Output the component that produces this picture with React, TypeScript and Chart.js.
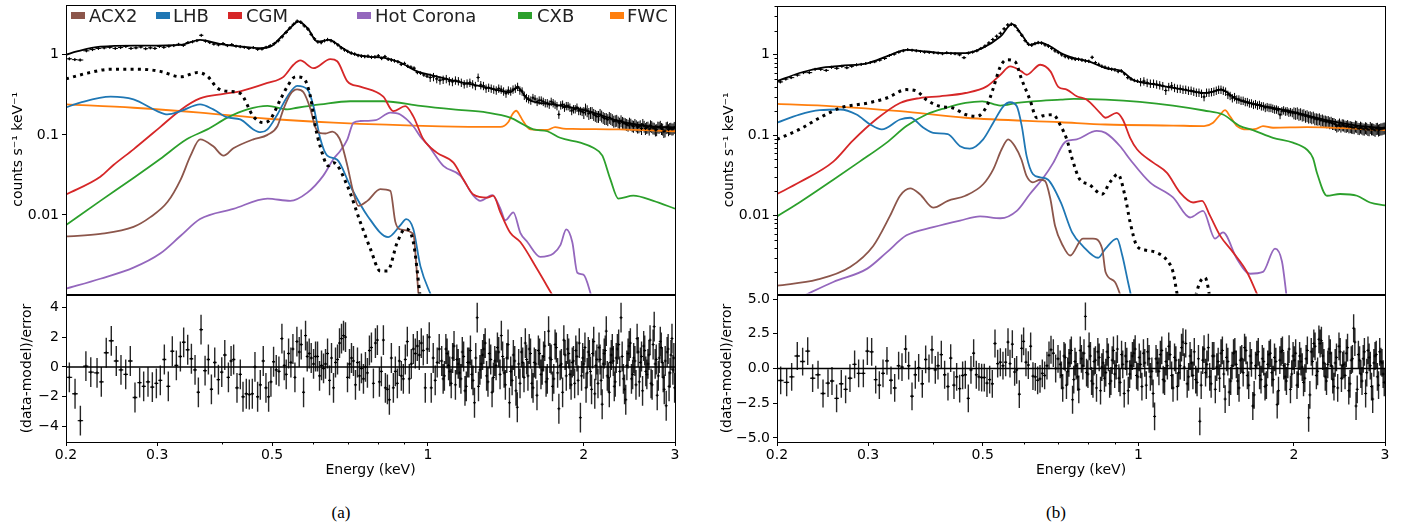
import React, { useEffect, useRef } from 'react';
import { Chart, registerables } from 'chart.js';

Chart.register(...registerables);

const FONT_FAMILY = "'DejaVu Sans', sans-serif";
const C_ACX = '#8c564b';
const C_LHB = '#1f77b4';
const C_CGM = '#d62728';
const C_HOT = '#9467bd';
const C_CXB = '#2ca02c';
const C_FWC = '#ff7f0e';

// ---------- axis ticks ----------
const X_TICKS = [0.2, 0.3, 0.5, 1, 2, 3];
const X_MINOR = [0.4, 0.6, 0.7, 0.8, 0.9];
const Y_TICKS_SPEC = [0.01, 0.1, 1];
const Y_MINOR_SPEC = [0.002, 0.003, 0.004, 0.005, 0.006, 0.007, 0.008, 0.009, 0.02, 0.03, 0.04, 0.05, 0.06, 0.07, 0.08, 0.09, 0.2, 0.3, 0.4, 0.5, 0.6, 0.7, 0.8, 0.9, 2, 3, 4];
const RES_TICKS_A = [-4, -2, 0, 2, 4];
const RES_TICKS_B = [-5, -2.5, 0, 2.5, 5];

// relative error of spectrum points by energy band [upper energy, fraction]
const REL_ERR: [number, number][] = [[0.5, 0.035], [1.0, 0.05], [2.0, 0.12], [3.1, 0.17]];

// ---------- panel (a) model components ----------
const MODEL_A_E = [0.2, 0.21, 0.233, 0.278, 0.333, 0.363, 0.396, 0.434, 0.475, 0.5,
  0.519, 0.542, 0.562, 0.585, 0.612, 0.645, 0.677, 0.708, 0.764, 0.82,
  0.884, 0.953, 1.024, 1.13, 1.302, 1.44, 1.49, 1.56, 1.75, 2.03,
  2.34, 2.72, 3.0];
const MODEL_A_V = [1.0, 1.1, 1.26, 1.3, 1.33, 1.53, 1.37, 1.27, 1.21, 1.3,
  1.63, 2.16, 2.6, 2.16, 1.46, 1.53, 1.27, 1.06, 0.95, 0.92,
  0.8, 0.62, 0.55, 0.47, 0.39, 0.34, 0.39, 0.277, 0.24, 0.2,
  0.149, 0.127, 0.124];

const DOTTED_A_E = [0.2, 0.22, 0.244, 0.278, 0.304, 0.333, 0.359, 0.375, 0.392, 0.41,
  0.434, 0.46, 0.481, 0.496, 0.519, 0.535, 0.555, 0.575, 0.593, 0.606,
  0.62, 0.642, 0.657, 0.699, 0.74, 0.774, 0.809, 0.835, 0.873, 0.904,
  0.937, 0.967];
const DOTTED_A_V = [0.5, 0.59, 0.66, 0.66, 0.62, 0.53, 0.6, 0.54, 0.385, 0.35,
  0.33, 0.17, 0.142, 0.156, 0.277, 0.4, 0.53, 0.51, 0.3, 0.128,
  0.07, 0.041, 0.045, 0.023, 0.0082, 0.0038, 0.002, 0.002, 0.0046, 0.0067,
  0.0046, 0.0009];

const ACX2_A_E = [0.2, 0.233, 0.27, 0.291, 0.314, 0.333, 0.348, 0.363, 0.385, 0.403,
  0.421, 0.46, 0.49, 0.512, 0.526, 0.542, 0.559, 0.575, 0.593, 0.606,
  0.62, 0.634, 0.654, 0.668, 0.68, 0.699, 0.718, 0.734, 0.764, 0.809,
  0.846, 0.865, 0.884, 0.937, 0.95, 0.96];
const ACX2_A_V = [0.0054, 0.0058, 0.0071, 0.0094, 0.0145, 0.0277, 0.055, 0.088, 0.072, 0.055,
  0.068, 0.088, 0.10, 0.128, 0.21, 0.32, 0.37, 0.34, 0.21, 0.125,
  0.105, 0.104, 0.11, 0.1, 0.08, 0.041, 0.019, 0.013, 0.015, 0.021,
  0.02, 0.0082, 0.0066, 0.0058, 0.0023, 0.0009];

const LHB_A_E = [0.2, 0.213, 0.244, 0.27, 0.3, 0.314, 0.333, 0.363, 0.385, 0.41,
  0.434, 0.46, 0.475, 0.49, 0.512, 0.535, 0.559, 0.585, 0.601, 0.62,
  0.639, 0.668, 0.708, 0.764, 0.838, 0.884, 0.908, 0.937, 0.967, 1.02];
const LHB_A_V = [0.22, 0.253, 0.30, 0.277, 0.198, 0.18, 0.198, 0.24, 0.208, 0.165,
  0.156, 0.117, 0.108, 0.117, 0.18, 0.30, 0.41, 0.37, 0.23, 0.088,
  0.055, 0.049, 0.023, 0.0098, 0.0053, 0.0074, 0.0089, 0.0067, 0.0023, 0.0009];

const CGM_A_E = [0.2, 0.233, 0.247, 0.27, 0.304, 0.333, 0.363, 0.403, 0.434, 0.49,
  0.526, 0.55, 0.567, 0.601, 0.648, 0.668, 0.699, 0.74, 0.82, 0.857,
  0.904, 0.937, 0.98, 1.04, 1.12, 1.17, 1.224, 1.302, 1.337, 1.38,
  1.442, 1.508, 1.626, 1.739];
const CGM_A_V = [0.018, 0.03, 0.042, 0.066, 0.125, 0.205, 0.285, 0.325, 0.35, 0.445,
  0.53, 0.75, 0.85, 0.68, 0.88, 0.83, 0.466, 0.40, 0.30, 0.198,
  0.228, 0.17, 0.088, 0.06, 0.045, 0.028, 0.018, 0.0165, 0.0174, 0.0108,
  0.006, 0.0046, 0.0021, 0.001];

const HOT_A_E = [0.2, 0.233, 0.27, 0.304, 0.333, 0.363, 0.421, 0.49, 0.542, 0.585,
  0.628, 0.657, 0.677, 0.699, 0.718, 0.74, 0.793, 0.846, 0.884, 0.937,
  0.967, 1.0, 1.071, 1.155, 1.224, 1.262, 1.331, 1.38, 1.411, 1.462,
  1.508, 1.556, 1.648, 1.747, 1.802, 1.85, 1.9, 1.943, 1.996, 2.077];
const HOT_A_V = [0.0012, 0.0016, 0.0022, 0.0033, 0.0055, 0.0089, 0.0119, 0.016, 0.015, 0.019,
  0.031, 0.05, 0.063, 0.088, 0.142, 0.149, 0.153, 0.19, 0.18, 0.128,
  0.095, 0.075, 0.041, 0.031, 0.0174, 0.015, 0.0177, 0.012, 0.0086, 0.0108,
  0.006, 0.0046, 0.003, 0.0033, 0.0042, 0.0066, 0.0046, 0.0019, 0.0018, 0.0009];

const CXB_A_E = [0.2, 0.233, 0.27, 0.304, 0.342, 0.375, 0.41, 0.448, 0.49, 0.535,
  0.559, 0.62, 0.708, 0.82, 0.967, 1.12, 1.302, 1.442, 1.528, 1.598,
  1.7, 1.8, 1.969, 2.086, 2.172, 2.25, 2.332, 2.493, 2.725, 3.0];
const CXB_A_V = [0.0075, 0.015, 0.029, 0.05, 0.088, 0.117, 0.164, 0.208, 0.23, 0.208,
  0.218, 0.24, 0.263, 0.263, 0.23, 0.208, 0.19, 0.164, 0.135, 0.117,
  0.111, 0.092, 0.08, 0.069, 0.055, 0.028, 0.016, 0.0174, 0.015, 0.012];

const FWC_A_E = [0.2, 0.27, 0.363, 0.49, 0.657, 1.06, 1.38, 1.43, 1.455, 1.481,
  1.505, 1.52, 1.577, 1.7, 1.76, 1.826, 1.9, 2.34, 3.0];
const FWC_A_V = [0.24, 0.218, 0.19, 0.159, 0.142, 0.128, 0.126, 0.145, 0.18, 0.2,
  0.175, 0.156, 0.117, 0.115, 0.125, 0.12, 0.119, 0.117, 0.111];

// ---------- spectrum data points (both panels share binning) ----------
const DATA_E = [0.203, 0.208, 0.213, 0.219, 0.225, 0.231, 0.237, 0.243, 0.249, 0.255,
  0.261, 0.267, 0.273, 0.279, 0.285, 0.291, 0.297, 0.303, 0.309, 0.316,
  0.323, 0.33, 0.337, 0.344, 0.351, 0.358, 0.365, 0.372, 0.379, 0.386,
  0.394, 0.402, 0.41, 0.418, 0.426, 0.434, 0.442, 0.451, 0.46, 0.469,
  0.478, 0.487, 0.496, 0.505, 0.514, 0.523, 0.532, 0.541, 0.55, 0.559,
  0.568, 0.577, 0.586, 0.595, 0.604, 0.613, 0.622, 0.631, 0.64, 0.65,
  0.66, 0.67, 0.68, 0.69, 0.7, 0.711, 0.722, 0.733, 0.744, 0.755,
  0.766, 0.778, 0.79, 0.802, 0.814, 0.826, 0.838, 0.85, 0.862, 0.875,
  0.888, 0.901, 0.914, 0.927, 0.94, 0.954, 0.968, 0.982, 0.996, 1.01,
  1.04, 1.07, 1.1, 1.13, 1.16, 1.19, 1.22, 1.25, 1.28, 1.31,
  1.34, 1.37, 1.4, 1.43, 1.46, 1.49, 1.52, 1.55, 1.58, 1.61,
  1.64, 1.67, 1.7, 1.73, 1.76, 1.79, 1.82, 1.85, 1.88, 1.91,
  1.94, 1.97, 2.0, 2.03, 2.06, 2.09, 2.12, 2.15, 2.18, 2.21,
  2.24, 2.27, 2.3, 2.33, 2.36, 2.39, 2.42, 2.45, 2.48, 2.51,
  2.54, 2.57, 2.6, 2.63, 2.66, 2.69, 2.72, 2.75, 2.78, 2.81,
  2.84, 2.87, 2.9, 2.93, 2.96, 2.99];
const DATA_A = [0.89, 0.87, 0.86, 1.12, 1.16, 1.2, 1.22, 1.24, 1.2, 1.23,
  1.27, 1.2, 1.22, 1.25, 1.19, 1.22, 1.2, 1.27, 1.24, 1.28,
  1.3, 1.35, 1.31, 1.42, 1.45, 1.5, 1.75, 1.48, 1.42, 1.36,
  1.33, 1.38, 1.3, 1.34, 1.28, 1.26, 1.24, 1.2, 1.23, 1.17,
  1.18, 1.24, 1.3, 1.38, 1.5, 1.68, 1.9, 2.15, 2.4, 2.62,
  2.55, 2.3, 2.1, 1.8, 1.58, 1.45, 1.42, 1.5, 1.55, 1.5,
  1.42, 1.33, 1.22, 1.15, 1.1, 1.05, 1.02, 0.98, 0.96, 0.95,
  0.96, 0.93, 0.94, 0.97, 0.9, 0.95, 0.88, 0.86, 0.84, 0.82,
  0.76, 0.78, 0.72, 0.7, 0.68, 0.6, 0.59, 0.56, 0.54, 0.52,
  0.5, 0.49, 0.47, 0.48, 0.45, 0.44, 0.43, 0.52, 0.41, 0.39,
  0.37, 0.38, 0.35, 0.36, 0.37, 0.4, 0.35, 0.29, 0.27, 0.28,
  0.27, 0.26, 0.25, 0.26, 0.24, 0.18, 0.24, 0.23, 0.22, 0.21,
  0.22, 0.2, 0.19, 0.2, 0.19, 0.18, 0.17, 0.18, 0.165, 0.16,
  0.165, 0.155, 0.15, 0.145, 0.15, 0.14, 0.135, 0.14, 0.13, 0.135,
  0.125, 0.13, 0.135, 0.12, 0.125, 0.13, 0.122, 0.115, 0.125, 0.128,
  0.118, 0.112, 0.125, 0.12, 0.118, 0.124];
const DATA_B = [0.46, 0.5, 0.52, 0.56, 0.6, 0.6, 0.66, 0.66, 0.64, 0.7,
  0.68, 0.72, 0.69, 0.72, 0.75, 0.76, 0.78, 0.8, 0.82, 0.86,
  0.9, 0.98, 1.02, 1.08, 1.12, 1.16, 1.14, 1.12, 1.1, 1.08,
  1.07, 1.06, 1.05, 1.03, 1.06, 1.04, 1.03, 1.0, 0.92, 1.05,
  1.08, 1.12, 1.2, 1.28, 1.4, 1.55, 1.7, 1.85, 2.1, 2.35,
  2.4, 2.3, 2.0, 1.75, 1.5, 1.35, 1.32, 1.38, 1.42, 1.4,
  1.33, 1.28, 1.2, 1.12, 1.07, 1.0, 0.95, 0.92, 0.9, 0.88,
  0.88, 0.86, 0.84, 0.83, 0.93, 0.8, 0.76, 0.72, 0.7, 0.68,
  0.66, 0.65, 0.62, 0.63, 0.58, 0.52, 0.5, 0.48, 0.47, 0.46,
  0.45, 0.44, 0.42, 0.36, 0.41, 0.38, 0.37, 0.36, 0.35, 0.34,
  0.3, 0.34, 0.35, 0.37, 0.36, 0.32, 0.29, 0.28, 0.27, 0.26,
  0.25, 0.24, 0.235, 0.23, 0.22, 0.22, 0.215, 0.21, 0.18, 0.205,
  0.2, 0.195, 0.19, 0.19, 0.185, 0.18, 0.175, 0.17, 0.168, 0.16,
  0.16, 0.155, 0.15, 0.148, 0.145, 0.14, 0.13, 0.138, 0.135, 0.13,
  0.132, 0.128, 0.125, 0.13, 0.122, 0.126, 0.12, 0.124, 0.118, 0.125,
  0.12, 0.115, 0.122, 0.118, 0.12, 0.123];
// finer high-energy bins interleaved with the ones above
const DATA_E2 = [1.025, 1.055, 1.085, 1.115, 1.145, 1.175, 1.205, 1.235, 1.265, 1.295,
  1.325, 1.355, 1.385, 1.415, 1.445, 1.475, 1.505, 1.535, 1.565, 1.595,
  1.625, 1.655, 1.685, 1.715, 1.745, 1.775, 1.805, 1.835, 1.865, 1.895,
  1.925, 1.955, 1.985, 2.015, 2.045, 2.075, 2.105, 2.135, 2.165, 2.195,
  2.225, 2.255, 2.285, 2.315, 2.345, 2.375, 2.405, 2.435, 2.465, 2.495,
  2.525, 2.555, 2.585, 2.615, 2.645, 2.675, 2.705, 2.735, 2.765, 2.795,
  2.825, 2.855, 2.885, 2.915, 2.945, 2.975];
const DATA_A2 = [0.53, 0.48, 0.5, 0.46, 0.47, 0.43, 0.45, 0.41, 0.42, 0.38,
  0.38, 0.36, 0.37, 0.33, 0.35, 0.38, 0.36, 0.31, 0.28, 0.29,
  0.26, 0.27, 0.25, 0.24, 0.25, 0.23, 0.235, 0.22, 0.23, 0.2,
  0.21, 0.2, 0.195, 0.21, 0.185, 0.19, 0.175, 0.17, 0.172, 0.16,
  0.155, 0.16, 0.148, 0.152, 0.14, 0.143, 0.138, 0.132, 0.136, 0.128,
  0.13, 0.126, 0.12, 0.128, 0.124, 0.118, 0.127, 0.121, 0.116, 0.124,
  0.12, 0.11, 0.123, 0.116, 0.121, 0.119];
const DATA_B2 = [0.47, 0.44, 0.43, 0.41, 0.4, 0.39, 0.38, 0.37, 0.36, 0.34,
  0.33, 0.34, 0.345, 0.36, 0.37, 0.35, 0.31, 0.3, 0.28, 0.27,
  0.26, 0.25, 0.245, 0.24, 0.23, 0.225, 0.22, 0.21, 0.205, 0.2,
  0.198, 0.192, 0.19, 0.187, 0.182, 0.178, 0.172, 0.168, 0.165, 0.16,
  0.158, 0.153, 0.15, 0.147, 0.143, 0.14, 0.136, 0.133, 0.13, 0.134,
  0.129, 0.127, 0.126, 0.124, 0.128, 0.121, 0.123, 0.119, 0.122, 0.117,
  0.12, 0.118, 0.121, 0.116, 0.12, 0.122];

// ---------- panel (a) residuals ----------
const RES_A_E_LO = [0.2030, 0.2082, 0.2132, 0.2185, 0.2233, 0.2296, 0.2340, 0.2392, 0.2446, 0.2501,
  0.2554, 0.2608, 0.2662, 0.2718, 0.2775, 0.2825, 0.2880, 0.2936, 0.2989, 0.3042,
  0.3097, 0.3152, 0.3209, 0.3267, 0.3326, 0.3375, 0.3436, 0.3493, 0.3550, 0.3603,
  0.3646, 0.3712, 0.3767, 0.3818, 0.3875, 0.3939, 0.3998, 0.4052, 0.4118, 0.4167,
  0.4215, 0.4278, 0.4342, 0.4394, 0.4459, 0.4519, 0.4580, 0.4634, 0.4689, 0.4745,
  0.4808, 0.4866, 0.4924, 0.4975, 0.5034, 0.5094, 0.5155, 0.5224, 0.5278, 0.5325,
  0.5381, 0.5437, 0.5486, 0.5535, 0.5584, 0.5642, 0.5692, 0.5752, 0.5803, 0.5846,
  0.5898, 0.5951, 0.6013, 0.6067, 0.6121, 0.6175, 0.6230, 0.6286, 0.6342, 0.6399,
  0.6456, 0.6513, 0.6571, 0.6630, 0.6690, 0.6749, 0.6809, 0.6870, 0.6931, 0.6993,
  0.7055, 0.7118, 0.7181, 0.7245, 0.7310, 0.7375, 0.7440, 0.7507, 0.7574, 0.7641,
  0.7709, 0.7778, 0.7847, 0.7917, 0.7987, 0.8059, 0.8130, 0.8203, 0.8276, 0.8350,
  0.8424, 0.8499, 0.8575, 0.8651, 0.8728, 0.8806, 0.8884, 0.8964, 0.9043, 0.9124,
  0.9205, 0.9287, 0.9370, 0.9453, 0.9537, 0.9622, 0.9708, 0.9794, 0.9882, 0.9970,
  1.0058, 1.0148, 1.0238, 1.0329, 1.0421, 1.0514];
const RES_A_LO = [-0.7, -1.8, -3.6, 0.05, -0.35, -0.4, -1.0, 0.95, 1.75, 0.4,
  -0.2, -0.5, 0.4, -2.05, -1.05, -1.3, -1.0, -1.35, -1.1, -0.9,
  0.5, -1.3, 1.05, 0.1, 0.7, 1.65, 1.15, 0.55, -0.2, -1.7,
  2.5, -0.25, 0.5, -1.5, 0.3, -0.85, -0.35, 0.8, -0.7, 0.4,
  0.5, -1.4, -0.5, -2.0, -1.8, -1.85, -1.8, 0.0, -2.0, -1.2,
  0.4, -1.4, -2.0, -1.0, 0.35, -0.2, -0.3, 1.9, 0.1, -0.5,
  0.9, 0.3, 1.2, -0.7, 1.7, 1.0, 1.5, -1.7, 2.1, 0.7,
  0.9, 0.6, 0.2, 0.7, 0.7, -0.6, 0.1, -0.1, 0.2, 0.9,
  -0.9, 0.6, -1.4, 0.3, 0.5, 1.6, 1.9, 2.1, 2.0, -0.7,
  0.2, 0.6, 0.4, -1.2, 0.3, -0.6, -0.1, -0.8, 0.0, -0.4,
  1.1, 1.3, -1.1, 1.6, 1.8, -1.0, -0.3, 1.8, -1.4, -1.5,
  -2.2, 0.6, -1.4, -0.3, -1.1, 0.4, -0.6, -0.8, 0.5, 1.7,
  -0.8, 0.2, 1.2, 0.9, 1.4, 0.8, 1.6, 1.1, -1.4, 1.2,
  2.0, -1.4, 0.6, -0.9, 0.3, 1.2];
const RES_A_E_HI = [1.063, 1.076, 1.089, 1.102, 1.116, 1.13, 1.144, 1.158, 1.172, 1.186,
  1.2, 1.215, 1.23, 1.245, 1.26, 1.275, 1.29, 1.306, 1.322, 1.338,
  1.354, 1.37, 1.386, 1.403, 1.42, 1.437, 1.454, 1.471, 1.488, 1.506,
  1.524, 1.542, 1.56, 1.578, 1.596, 1.615, 1.634, 1.653, 1.672, 1.691,
  1.71, 1.73, 1.75, 1.77, 1.79, 1.81, 1.83, 1.85, 1.87, 1.89,
  1.91, 1.93, 1.95, 1.97, 1.99, 2.01, 2.03, 2.05, 2.07, 2.09,
  2.11, 2.13, 2.15, 2.17, 2.19, 2.21, 2.23, 2.25, 2.27, 2.29,
  2.31, 2.335, 2.36, 2.385, 2.41, 2.435, 2.46, 2.485, 2.51, 2.535,
  2.56, 2.585, 2.61, 2.635, 2.66, 2.685, 2.71, 2.735, 2.76, 2.785,
  2.81, 2.835, 2.86, 2.885, 2.91, 2.935, 2.96, 2.985];
const RES_A_HI = [0.4, -0.6, 0.9, -0.3, 0.6, -1.2, 0.2, -0.8, 0.7, -1.3,
  0.3, -0.5, -2.4, 3.3, -0.2, 0.8, 1.6, -1.0, 0.5, -0.7,
  0.1, 1.0, 2.1, -0.4, 0.6, -2.4, -0.9, 0.4, -2.7, -1.1,
  0.3, 1.6, -0.6, 0.9, -1.4, 0.2, 1.1, -0.5, 0.7, -1.0,
  2.4, 0.5, -0.8, 1.3, -2.8, 0.2, 1.8, -0.6, 0.9, -1.2,
  0.4, 1.1, -0.9, -3.4, 0.6, 1.3, -0.4, 0.8, -1.5, 1.7,
  0.1, -1.1, 0.5, -2.5, 0.9, 2.4, -0.7, 0.3, 1.2, -1.3,
  0.6, 1.5, 3.3, -0.8, -2.2, 0.9, 1.6, -0.5, 0.4, 1.9,
  -1.0, 0.7, 1.4, -0.3, 0.2, 1.8, -1.2, 2.7, 0.5, -0.6,
  1.7, 0.3, -1.5, -2.6, 1.2, -0.4, 1.9, 0.6];
const RES_A_E_HI2 = [1.07, 1.083, 1.096, 1.109, 1.123, 1.137, 1.151, 1.165, 1.179, 1.193,
  1.208, 1.222, 1.237, 1.252, 1.267, 1.282, 1.298, 1.314, 1.33, 1.346,
  1.362, 1.378, 1.394, 1.411, 1.428, 1.445, 1.462, 1.479, 1.497, 1.515,
  1.533, 1.551, 1.569, 1.587, 1.605, 1.624, 1.643, 1.662, 1.681, 1.7,
  1.72, 1.74, 1.76, 1.78, 1.8, 1.82, 1.84, 1.86, 1.88, 1.9,
  1.92, 1.94, 1.96, 1.98, 2.0, 2.02, 2.04, 2.06, 2.08, 2.1,
  2.12, 2.14, 2.16, 2.18, 2.2, 2.22, 2.24, 2.26, 2.28, 2.3,
  2.322, 2.347, 2.372, 2.397, 2.422, 2.447, 2.472, 2.497, 2.522, 2.547,
  2.572, 2.597, 2.622, 2.647, 2.672, 2.697, 2.722, 2.747, 2.772, 2.797,
  2.822, 2.847, 2.872, 2.897, 2.922, 2.947, 2.972, 2.995];
const RES_A_HI2 = [-0.8, 1.2, 0.1, -1.1, 1.4, 0.5, -0.4, 1.0, -1.6, 0.3,
  1.1, -0.9, 0.6, -1.3, 0.2, 1.2, -0.6, 0.9, -1.7, 0.4,
  1.3, -0.5, 0.7, -1.2, 1.5, -0.3, 0.8, -1.6, 0.2, 1.0,
  -0.7, 0.5, 1.2, -1.1, 0.3, -1.9, 0.9, -0.2, 1.4, -0.8,
  0.6, -1.3, 1.5, -0.4, 0.1, -1.7, 0.8, 1.2, -0.5, 0.3,
  -1.1, 0.7, 1.6, -0.6, 0.2, -1.4, 1.0, -0.3, 0.9, -1.8,
  0.5, 1.3, -0.9, 0.2, 1.1, -0.6, -1.7, 0.8, 0.4, -1.0,
  1.2, -0.3, 0.7, -1.5, 0.1, 1.4, -0.8, 0.6, -1.2, 1.0,
  0.3, -1.6, 1.1, -0.5, 0.8, -1.1, 1.5, 0.2, -1.9, 0.6,
  1.3, -0.7, 0.4, 1.0, -1.3, 0.8, -0.2, -1.4];

// ---------- panel (b) model components ----------
const MODEL_B_E = [0.2, 0.221, 0.242, 0.265, 0.3, 0.326, 0.356, 0.389, 0.424, 0.463,
  0.499, 0.541, 0.57, 0.598, 0.617, 0.646, 0.676, 0.708, 0.751, 0.802,
  0.864, 0.931, 0.976, 1.08, 1.2, 1.357, 1.447, 1.547, 1.69, 1.965,
  2.276, 2.648, 3.0];
const MODEL_B_V = [0.468, 0.594, 0.684, 0.73, 0.79, 0.953, 1.153, 1.1, 1.05, 1.05,
  1.21, 1.686, 2.4, 1.686, 1.33, 1.42, 1.27, 1.05, 0.91, 0.826,
  0.684, 0.62, 0.49, 0.425, 0.376, 0.335, 0.37, 0.283, 0.24, 0.199,
  0.157, 0.132, 0.123];

const DOTTED_B_E = [0.2, 0.221, 0.242, 0.265, 0.3, 0.326, 0.356, 0.373, 0.389, 0.413,
  0.438, 0.463, 0.487, 0.509, 0.523, 0.541, 0.556, 0.577, 0.595, 0.617,
  0.636, 0.654, 0.684, 0.708, 0.728, 0.744, 0.771, 0.802, 0.851, 0.881,
  0.913, 0.942, 0.964, 0.994, 1.039, 1.082, 1.136, 1.167, 1.193, 1.24,
  1.287, 1.316, 1.346, 1.364, 1.376, 1.4];
const DOTTED_B_V = [0.089, 0.118, 0.165, 0.218, 0.252, 0.29, 0.369, 0.352, 0.277, 0.229,
  0.218, 0.181, 0.172, 0.229, 0.369, 0.717, 0.867, 0.826, 0.49, 0.277,
  0.165, 0.175, 0.18, 0.13, 0.087, 0.052, 0.028, 0.0246, 0.0185, 0.026,
  0.0327, 0.0178, 0.0083, 0.0042, 0.0037, 0.0035, 0.0028, 0.002, 0.00095, 0.0005,
  0.00095, 0.0015, 0.0017, 0.0013, 0.0009, 0.0005];

const ACX2_B_E = [0.2, 0.239, 0.277, 0.307, 0.331, 0.346, 0.362, 0.378, 0.401, 0.428,
  0.463, 0.501, 0.524, 0.544, 0.56, 0.577, 0.594, 0.608, 0.625, 0.646,
  0.66, 0.676, 0.69, 0.715, 0.738, 0.781, 0.817, 0.851, 0.864, 0.901,
  0.93];
const ACX2_B_V = [0.00135, 0.0016, 0.0023, 0.0042, 0.01, 0.0177, 0.0218, 0.0185, 0.0126, 0.0153,
  0.0177, 0.0246, 0.0377, 0.067, 0.089, 0.073, 0.05, 0.031, 0.026, 0.028,
  0.027, 0.016, 0.0075, 0.0042, 0.0032, 0.0052, 0.0052, 0.0039, 0.002, 0.0015,
  0.0009];

const LHB_B_E = [0.2, 0.221, 0.242, 0.265, 0.285, 0.303, 0.319, 0.346, 0.362, 0.384,
  0.401, 0.428, 0.452, 0.472, 0.501, 0.524, 0.548, 0.565, 0.582, 0.595,
  0.608, 0.625, 0.646, 0.669, 0.708, 0.7445, 0.781, 0.836, 0.864, 0.909,
  0.931, 0.955, 0.972];
const LHB_B_V = [0.143, 0.181, 0.205, 0.209, 0.181, 0.136, 0.118, 0.157, 0.165, 0.124,
  0.107, 0.103, 0.073, 0.068, 0.089, 0.143, 0.229, 0.257, 0.229, 0.13,
  0.055, 0.033, 0.03, 0.028, 0.0146, 0.0062, 0.0042, 0.003, 0.0039, 0.0052,
  0.0032, 0.0015, 0.0009];

const CGM_B_E = [0.2, 0.221, 0.257, 0.28, 0.312, 0.346, 0.378, 0.413, 0.463, 0.509,
  0.541, 0.565, 0.594, 0.608, 0.646, 0.676, 0.7, 0.727, 0.76, 0.795,
  0.843, 0.864, 0.908, 0.933, 0.964, 0.994, 1.067, 1.136, 1.204, 1.276,
  1.328, 1.376, 1.438, 1.525, 1.622, 1.704];
const CGM_B_V = [0.0186, 0.026, 0.047, 0.085, 0.16, 0.252, 0.29, 0.305, 0.335, 0.405,
  0.565, 0.717, 0.622, 0.565, 0.752, 0.622, 0.40, 0.369, 0.305, 0.277,
  0.19, 0.165, 0.19, 0.157, 0.093, 0.067, 0.046, 0.034, 0.0194, 0.0146,
  0.0153, 0.01, 0.0057, 0.0035, 0.002, 0.001];

const HOT_B_E = [0.2, 0.228, 0.257, 0.299, 0.326, 0.356, 0.401, 0.452, 0.494, 0.541,
  0.582, 0.617, 0.655, 0.684, 0.715, 0.727, 0.76, 0.831, 0.864, 0.922,
  0.964, 1.053, 1.167, 1.259, 1.334, 1.407, 1.458, 1.552, 1.644, 1.742,
  1.838, 1.896, 1.939];
const HOT_B_V = [0.0007, 0.00105, 0.0015, 0.0022, 0.0035, 0.0057, 0.0072, 0.0087, 0.0098, 0.0093,
  0.0115, 0.0186, 0.0296, 0.045, 0.077, 0.085, 0.089, 0.113, 0.107, 0.073,
  0.05, 0.026, 0.0169, 0.0095, 0.0115, 0.0052, 0.0062, 0.0029, 0.0019, 0.002,
  0.0039, 0.0027, 0.0009];

const CXB_B_E = [0.2, 0.221, 0.257, 0.289, 0.326, 0.356, 0.389, 0.424, 0.463, 0.499,
  0.541, 0.582, 0.625, 0.708, 0.75, 0.864, 1.007, 1.167, 1.34, 1.458,
  1.573, 1.666, 1.822, 1.991, 2.12, 2.177, 2.216, 2.317, 2.456, 2.648,
  2.806, 3.0];
const CXB_B_V = [0.0098, 0.0146, 0.028, 0.047, 0.081, 0.13, 0.181, 0.218, 0.252, 0.264,
  0.234, 0.252, 0.264, 0.277, 0.283, 0.277, 0.26, 0.234, 0.203, 0.181,
  0.13, 0.116, 0.093, 0.081, 0.066, 0.052, 0.034, 0.0177, 0.0186, 0.0177,
  0.0146, 0.0134];

const FWC_B_E = [0.2, 0.257, 0.346, 0.463, 0.708, 0.864, 1.167, 1.34, 1.395, 1.44,
  1.471, 1.504, 1.552, 1.622, 1.69, 1.742, 1.822, 2.12, 3.0];
const FWC_B_V = [0.245, 0.229, 0.199, 0.165, 0.145, 0.136, 0.132, 0.13, 0.143, 0.181,
  0.205, 0.172, 0.13, 0.118, 0.12, 0.13, 0.124, 0.126, 0.116];

// ---------- panel (b) residuals ----------
const RES_B_E_LO = [0.2033, 0.2088, 0.2135, 0.2189, 0.2242, 0.2293, 0.2344, 0.2401, 0.2455, 0.2510,
  0.2555, 0.2608, 0.2663, 0.2715, 0.2768, 0.2826, 0.2877, 0.2938, 0.2991, 0.3049,
  0.3104, 0.3155, 0.3207, 0.3264, 0.3323, 0.3378, 0.3438, 0.3490, 0.3547, 0.3595,
  0.3649, 0.3703, 0.3759, 0.3820, 0.3878, 0.3936, 0.3989, 0.4048, 0.4097, 0.4158,
  0.4220, 0.4283, 0.4335, 0.4399, 0.4452, 0.4512, 0.4572, 0.4627, 0.4689, 0.4745,
  0.4802, 0.4859, 0.4917, 0.4976, 0.5035, 0.5096, 0.5157, 0.5218, 0.5281, 0.5344,
  0.5408, 0.5472, 0.5538, 0.5596, 0.5646, 0.5705, 0.5764, 0.5816, 0.5885, 0.5946,
  0.5999, 0.6062, 0.6126, 0.6190, 0.6254, 0.6320, 0.6386, 0.6453, 0.6520, 0.6588,
  0.6657, 0.6717, 0.6777, 0.6848, 0.6919, 0.6992];
const RES_B_LO = [-0.86, -1.0, -0.6, 0.9, 0.5, 1.25, -0.7, -0.45, -1.8, -1.05,
  -0.9, -2.15, -1.1, -1.5, -0.7, 0.3, -0.35, -0.35, 1.25, 1.2,
  -0.8, -1.2, -0.35, 0.55, -0.85, -1.4, 0.2, 0.1, 1.4, 0.2,
  -2.0, -0.45, 0.05, -1.1, 0.65, 0.0, 1.35, -0.1, 0.2, 1.0,
  -0.45, -1.3, 0.75, -1.2, -0.6, -1.45, -0.5, -0.45, -2.15, -0.1,
  1.1, -0.45, -0.6, -0.65, -0.65, -1.05, -0.8, -1.1, 1.8, 0.35,
  0.45, 0.2, 0.45, 1.9, 0.35, 1.75, -0.25, -0.1, -1.85, 1.45,
  1.95, 0.45, 0.25, 1.6, -0.55, -0.6, -0.85, -0.75, -0.35, -0.5,
  0.2, 0.95, 1.35, 1.1, 0.0, 0.7];
const RES_B_E_HI = [0.706, 0.714, 0.722, 0.73, 0.738, 0.746, 0.754, 0.763, 0.772, 0.781,
  0.79, 0.799, 0.808, 0.817, 0.826, 0.835, 0.845, 0.855, 0.865, 0.875,
  0.885, 0.895, 0.906, 0.917, 0.928, 0.939, 0.95, 0.962, 0.974, 0.986,
  0.998, 1.01, 1.023, 1.036, 1.049, 1.062, 1.075, 1.089, 1.103, 1.117,
  1.131, 1.145, 1.16, 1.175, 1.19, 1.205, 1.22, 1.235, 1.251, 1.267,
  1.283, 1.299, 1.315, 1.332, 1.349, 1.366, 1.383, 1.4, 1.418, 1.436,
  1.454, 1.472, 1.49, 1.509, 1.528, 1.547, 1.566, 1.585, 1.605, 1.625,
  1.645, 1.665, 1.685, 1.706, 1.727, 1.748, 1.769, 1.79, 1.812, 1.834,
  1.856, 1.878, 1.9, 1.923, 1.946, 1.969, 1.992, 2.015, 2.039, 2.063,
  2.087, 2.111, 2.135, 2.16, 2.185, 2.21, 2.235, 2.26, 2.286, 2.312,
  2.338, 2.364, 2.39, 2.417, 2.444, 2.471, 2.498, 2.525, 2.553, 2.581,
  2.609, 2.637, 2.665, 2.694, 2.723, 2.752, 2.781, 2.81, 2.84, 2.87,
  2.9, 2.93, 2.96, 2.99];
const RES_B_HI = [0.3, -1.4, 0.8, -0.2, 1.1, -2.25, 0.5, -0.6, 1.3, 0.2,
  3.75, -0.4, 0.9, -1.1, 0.6, 1.2, -1.6, 0.4, -0.3, 0.8,
  -0.9, 1.3, 0.2, -0.7, 1.0, -1.8, 0.5, -0.4, 0.9, 1.4,
  -0.6, 0.3, 1.1, -1.2, 0.7, -0.2, -3.45, 0.4, 1.0, -0.8,
  0.5, 1.6, -0.5, 0.8, -1.3, 0.2, 1.9, 1.8, -0.6, 0.4,
  1.2, -1.0, -3.8, 0.6, -0.3, 1.5, -1.1, 0.9, 0.1, -0.7,
  1.3, -2.2, 0.5, -0.9, 1.1, 0.3, -1.4, 0.7, 1.5, -0.5,
  0.9, -2.7, 0.2, 1.2, -0.8, 0.5, -1.2, 1.0, -0.3, 0.8,
  -2.6, 0.6, 1.3, -0.6, 0.3, -1.5, 0.9, 1.1, -0.4, 0.5,
  -1.0, 0.7, -3.55, 1.2, 1.8, -0.5, 2.1, 2.0, 0.4, -0.9,
  1.4, 0.2, -1.3, 0.8, 1.6, -0.7, 0.3, 1.1, -1.6, 0.6,
  2.9, -2.7, 1.0, -0.4, 0.7, -1.8, 1.3, 0.2, -2.2, 0.9,
  -0.6, 1.2, 0.4, -1.0];
const RES_B_E_HI2 = [0.71, 0.718, 0.726, 0.734, 0.742, 0.75, 0.758, 0.767, 0.776, 0.785,
  0.794, 0.803, 0.812, 0.821, 0.83, 0.84, 0.85, 0.86, 0.87, 0.88,
  0.89, 0.9, 0.911, 0.922, 0.933, 0.944, 0.956, 0.968, 0.98, 0.992,
  1.004, 1.016, 1.029, 1.042, 1.055, 1.068, 1.082, 1.096, 1.11, 1.124,
  1.138, 1.152, 1.167, 1.182, 1.197, 1.212, 1.227, 1.243, 1.259, 1.275,
  1.291, 1.307, 1.323, 1.34, 1.357, 1.374, 1.391, 1.409, 1.427, 1.445,
  1.463, 1.481, 1.499, 1.518, 1.537, 1.556, 1.575, 1.595, 1.615, 1.635,
  1.655, 1.675, 1.695, 1.716, 1.737, 1.758, 1.779, 1.801, 1.823, 1.845,
  1.867, 1.889, 1.911, 1.934, 1.957, 1.98, 2.003, 2.027, 2.051, 2.075,
  2.099, 2.123, 2.147, 2.172, 2.197, 2.222, 2.247, 2.273, 2.299, 2.325,
  2.351, 2.377, 2.403, 2.43, 2.457, 2.484, 2.511, 2.539, 2.567, 2.595,
  2.623, 2.651, 2.679, 2.708, 2.737, 2.766, 2.795, 2.825, 2.855, 2.885,
  2.915, 2.945, 2.975];
const RES_B_HI2 = [-0.5, 0.9, -1.2, 0.4, 1.3, -0.8, 0.2, -1.5, 0.7, 1.1,
  -0.3, 1.6, -0.9, 0.5, -1.4, 0.8, 0.1, -0.7, 1.2, -1.1,
  0.6, -0.4, 1.4, -1.0, 0.3, 0.9, -1.6, 0.2, 1.1, -0.5,
  0.8, -1.3, 0.4, 1.2, -0.6, -1.8, 0.7, -0.2, 1.3, -0.9,
  0.2, 1.0, -1.4, 0.6, -0.3, 1.5, 0.1, -1.1, 0.9, -0.5,
  -0.8, 0.7, -1.2, 1.4, 0.3, -0.6, 0.9, -1.5, 0.5, 1.1,
  -0.4, 0.8, -1.7, 0.2, 1.2, -0.9, 0.6, -0.3, 1.3, -1.2,
  0.4, -1.9, 1.0, -0.5, 0.7, -1.3, 0.3, 1.1, -0.8, 0.5,
  -1.6, 1.2, 0.2, -0.9, 1.4, -0.4, 0.6, -1.2, 0.9, 0.1,
  -0.7, 1.3, -1.9, 0.5, 1.6, -0.2, 1.8, 0.9, -0.6, 0.3,
  1.1, -0.8, 0.4, -1.4, 1.2, 0.2, -0.5, 1.5, -1.1, 0.7,
  1.9, -1.5, 0.6, -0.9, 1.2, -0.3, 0.8, -1.3, 0.4, 1.0,
  -1.2, 0.5, -0.4];

// ---------- legend layout (panel a) ----------
const LEGEND_ITEMS = [
  { label: 'ACX2', color: C_ACX, px: 71, tx: 89 },
  { label: 'LHB', color: C_LHB, px: 156, tx: 173 },
  { label: 'CGM', color: C_CGM, px: 228, tx: 246 },
  { label: 'Hot Corona', color: C_HOT, px: 357, tx: 375 },
  { label: 'CXB', color: C_CXB, px: 518, tx: 537 },
  { label: 'FWC', color: C_FWC, px: 610, tx: 627 },
];

// ---------- helpers ----------
type Bar = { x: number; xl: number; xh: number; y: number; yl: number; yh: number };

function pairs(E: number[], V: number[]) {
  return E.map((x, i) => ({ x, y: V[i] }));
}

function merged(E1: number[], V1: number[], E2: number[], V2: number[]): [number[], number[]] {
  const p = [...pairs(E1, V1), ...pairs(E2, V2)].sort((a, b) => a.x - b.x);
  return [p.map((q) => q.x), p.map((q) => q.y)];
}

function edges(E: number[]) {
  return E.map((e, i) => {
    const lo = i > 0 ? Math.sqrt(E[i - 1] * e) : e / Math.sqrt(E[1] / E[0]);
    const hi = i < E.length - 1 ? Math.sqrt(e * E[i + 1]) : e * Math.sqrt(e / E[i - 1]);
    return [lo, hi];
  });
}

function relErr(e: number) {
  for (const [lim, r] of REL_ERR) if (e < lim) return r;
  return REL_ERR[REL_ERR.length - 1][1];
}

function specBars(E: number[], V: number[]): Bar[] {
  const ed = edges(E);
  return E.map((e, i) => {
    const r = relErr(e);
    return { x: e, xl: ed[i][0], xh: ed[i][1], y: V[i], yl: V[i] * (1 - r), yh: V[i] * (1 + r) };
  });
}

function resBars(E: number[], R: number[]): Bar[] {
  const ed = edges(E);
  return E.map((e, i) => ({ x: e, xl: ed[i][0], xh: ed[i][1], y: R[i], yl: R[i] - 1, yh: R[i] + 1 }));
}

function curve(E: number[], V: number[], color: string, width: number, dash?: number[]) {
  return {
    type: 'line',
    data: pairs(E, V),
    borderColor: color,
    backgroundColor: color,
    borderWidth: width,
    borderDash: dash || [],
    borderCapStyle: 'butt',
    pointRadius: 0,
    fill: false,
    cubicInterpolationMode: 'monotone',
    capBezierPoints: false,
  };
}

function points(E: number[], V: number[]) {
  return {
    type: 'line',
    data: pairs(E, V),
    showLine: false,
    pointStyle: 'cross',
    pointRadius: 1.5,
    pointBorderWidth: 1,
    pointBorderColor: '#000',
    borderColor: '#000',
    backgroundColor: '#000',
  };
}

function panelPlugin(bars: Bar[], barColor: string, barWidth: number, zero: boolean, xMinor: number[], yMinor: number[]) {
  return {
    id: 'panelDeco',
    beforeDatasetsDraw(chart: any) {
      const { ctx, chartArea: a } = chart;
      const xs = chart.scales.x;
      const ys = chart.scales.y;
      ctx.save();
      ctx.beginPath();
      ctx.rect(a.left, a.top, a.right - a.left, a.bottom - a.top);
      ctx.clip();
      ctx.strokeStyle = barColor;
      ctx.lineWidth = barWidth;
      ctx.beginPath();
      for (const b of bars) {
        const px = xs.getPixelForValue(b.x);
        const py = ys.getPixelForValue(b.y);
        ctx.moveTo(xs.getPixelForValue(b.xl), py);
        ctx.lineTo(xs.getPixelForValue(b.xh), py);
        ctx.moveTo(px, ys.getPixelForValue(b.yl));
        ctx.lineTo(px, ys.getPixelForValue(b.yh));
      }
      ctx.stroke();
      if (zero) {
        const y0 = ys.getPixelForValue(0);
        ctx.strokeStyle = '#000';
        ctx.lineWidth = 1.5;
        ctx.beginPath();
        ctx.moveTo(a.left, y0);
        ctx.lineTo(a.right, y0);
        ctx.stroke();
      }
      ctx.restore();
    },
    afterDraw(chart: any) {
      const { ctx, chartArea: a } = chart;
      const xs = chart.scales.x;
      const ys = chart.scales.y;
      ctx.save();
      ctx.strokeStyle = '#000';
      ctx.lineWidth = 1;
      ctx.strokeRect(Math.round(a.left) + 0.5, Math.round(a.top) + 0.5, Math.round(a.right - a.left), Math.round(a.bottom - a.top));
      ctx.beginPath();
      for (const v of xMinor) {
        const px = Math.round(xs.getPixelForValue(v)) + 0.5;
        ctx.moveTo(px, a.bottom);
        ctx.lineTo(px, a.bottom + 2.5);
      }
      for (const v of yMinor) {
        const py = Math.round(ys.getPixelForValue(v)) + 0.5;
        ctx.moveTo(a.left, py);
        ctx.lineTo(a.left - 2.5, py);
      }
      ctx.stroke();
      ctx.restore();
    },
  };
}

const tickFont = { family: FONT_FAMILY, size: 14 };

function yAxis(type: string, min: number, max: number, W: number, ticks: number[], fmt: (v: number) => string, title: string, titlePad: number) {
  return {
    type,
    min,
    max,
    afterFit: (s: any) => { s.width = W; },
    afterBuildTicks: (s: any) => { s.ticks = ticks.map((v) => ({ value: v })); },
    ticks: { callback: (v: any) => fmt(Number(v)), color: '#000', font: tickFont, padding: 3, autoSkip: false },
    grid: { display: true, drawOnChartArea: false, drawTicks: true, tickLength: 4, color: '#000', lineWidth: 1 },
    border: { display: false },
    title: { display: true, text: title, color: '#000', font: tickFont, padding: { top: titlePad, bottom: 0 } },
  };
}

function specConfig(datasets: any[], bars: Bar[], yMin: number, yMax: number, W: number, padTop: number, titlePad: number, yMinor: number[]) {
  return {
    type: 'line',
    data: { datasets },
    options: {
      responsive: false,
      animation: false,
      devicePixelRatio: 1,
      events: [],
      layout: { padding: { left: 0, right: 25, top: padTop, bottom: 10 } },
      plugins: { legend: { display: false }, tooltip: { enabled: false } },
      scales: {
        x: { type: 'logarithmic', display: false, min: 0.2, max: 3 },
        y: yAxis('logarithmic', yMin, yMax, W, Y_TICKS_SPEC, (v) => String(v), 'counts s\u207B\u00B9 keV\u207B\u00B9', titlePad),
      },
    },
    plugins: [panelPlugin(bars, '#000', 1, false, [], yMinor)],
  };
}

function resConfig(E: number[], R: number[], yMin: number, yMax: number, W: number, ticks: number[], fmt: (v: number) => string, titlePad: number) {
  return {
    type: 'line',
    data: { datasets: [points(E, R)] },
    options: {
      responsive: false,
      animation: false,
      devicePixelRatio: 1,
      events: [],
      layout: { padding: { left: 0, right: 25, top: 15, bottom: 0 } },
      plugins: { legend: { display: false }, tooltip: { enabled: false } },
      scales: {
        x: {
          type: 'logarithmic',
          min: 0.2,
          max: 3,
          afterFit: (s: any) => { s.height = 40; },
          afterBuildTicks: (s: any) => { s.ticks = X_TICKS.map((v) => ({ value: v })); },
          ticks: { callback: (v: any) => String(v), color: '#000', font: tickFont, padding: 1, autoSkip: false, maxRotation: 0, minRotation: 0 },
          grid: { display: true, drawOnChartArea: false, drawTicks: true, tickLength: 4, color: '#000', lineWidth: 1 },
          border: { display: false },
          title: { display: true, text: 'Energy (keV)', color: '#000', font: tickFont, padding: { top: 0, bottom: 3 } },
        },
        y: yAxis('linear', yMin, yMax, W, ticks, fmt, '(data-model)/error', titlePad),
      },
    },
    plugins: [panelPlugin(resBars(E, R), '#262626', 1.4, true, X_MINOR, [])],
  };
}

const fmtIntSigned = (v: number) => (v < 0 ? '\u2212' : '') + String(Math.abs(v));
const fmtOneDec = (v: number) => (v < 0 ? '\u2212' : '') + Math.abs(v).toFixed(1);

function makeATop() {
  const [dE, dV] = merged(DATA_E, DATA_A, DATA_E2, DATA_A2);
  const ds = [
    curve(MODEL_A_E, MODEL_A_V, '#000', 1.8),
    curve(DOTTED_A_E, DOTTED_A_V, '#000', 3, [3, 4.3]),
    points(dE, dV),
    curve(ACX2_A_E, ACX2_A_V, C_ACX, 1.8),
    curve(LHB_A_E, LHB_A_V, C_LHB, 1.8),
    curve(CGM_A_E, CGM_A_V, C_CGM, 1.8),
    curve(HOT_A_E, HOT_A_V, C_HOT, 1.8),
    curve(CXB_A_E, CXB_A_V, C_CXB, 1.8),
    curve(FWC_A_E, FWC_A_V, C_FWC, 1.8),
  ];
  return specConfig(ds, specBars(dE, dV), 0.001044, 4.18, 66, 15, 9.6, []);
}

function makeBTop() {
  const [dE, dV] = merged(DATA_E, DATA_B, DATA_E2, DATA_B2);
  const ds = [
    curve(MODEL_B_E, MODEL_B_V, '#000', 1.8),
    curve(DOTTED_B_E, DOTTED_B_V, '#000', 3, [3, 4.3]),
    points(dE, dV),
    curve(ACX2_B_E, ACX2_B_V, C_ACX, 1.8),
    curve(LHB_B_E, LHB_B_V, C_LHB, 1.8),
    curve(CGM_B_E, CGM_B_V, C_CGM, 1.8),
    curve(HOT_B_E, HOT_B_V, C_HOT, 1.8),
    curve(CXB_B_E, CXB_B_V, C_CXB, 1.8),
    curve(FWC_B_E, FWC_B_V, C_FWC, 1.8),
  ];
  return specConfig(ds, specBars(dE, dV), 0.001076, 4.04, 77, 16, 20.6, Y_MINOR_SPEC);
}

function makeARes() {
  const [e1, r1] = merged(RES_A_E_LO, RES_A_LO, RES_A_E_HI, RES_A_HI);
  const [e, r] = merged(e1, r1, RES_A_E_HI2, RES_A_HI2);
  return resConfig(e, r, -5.03, 4.82, 66, RES_TICKS_A, fmtIntSigned, 19.1);
}

function makeBRes() {
  const [e1, r1] = merged(RES_B_E_LO, RES_B_LO, RES_B_E_HI, RES_B_HI);
  const [e, r] = merged(e1, r1, RES_B_E_HI2, RES_B_HI2);
  return resConfig(e, r, -5.29, 5.29, 77, RES_TICKS_B, fmtOneDec, 19.1);
}

function ChartBox({ make, left, top, width, height }: { make: () => any; left: number; top: number; width: number; height: number }) {
  const ref = useRef<HTMLCanvasElement>(null);
  useEffect(() => {
    const chart = new Chart(ref.current as HTMLCanvasElement, make());
    return () => chart.destroy();
  }, [make]);
  return <canvas ref={ref} width={width} height={height} style={{ position: 'absolute', left, top, width, height }} />;
}

export default function App() {
  return (
    <div style={{ position: 'fixed', left: 0, top: 0, width: 1413, height: 530, background: '#fff', overflow: 'hidden' }}>
      <ChartBox make={makeATop} left={0} top={-10} width={700} height={315} />
      <ChartBox make={makeARes} left={0} top={280} width={700} height={202} />
      <ChartBox make={makeBTop} left={700} top={-10} width={710} height={315} />
      <ChartBox make={makeBRes} left={700} top={280} width={710} height={202} />
      {LEGEND_ITEMS.map((it) => (
        <React.Fragment key={it.label}>
          <div style={{ position: 'absolute', left: it.px, top: 12, width: 14, height: 6.5, background: it.color }} />
          <div style={{ position: 'absolute', left: it.tx, top: 7, fontFamily: FONT_FAMILY, fontSize: 18, lineHeight: '18px', color: '#222', whiteSpace: 'nowrap' }}>{it.label}</div>
        </React.Fragment>
      ))}
      <div style={{ position: 'absolute', left: 311, top: 503, width: 60, textAlign: 'center', fontFamily: "'Liberation Serif', serif", fontSize: 17, lineHeight: '20px', color: '#000' }}>(a)</div>
      <div style={{ position: 'absolute', left: 1026, top: 503, width: 60, textAlign: 'center', fontFamily: "'Liberation Serif', serif", fontSize: 17, lineHeight: '20px', color: '#000' }}>(b)</div>
    </div>
  );
}
